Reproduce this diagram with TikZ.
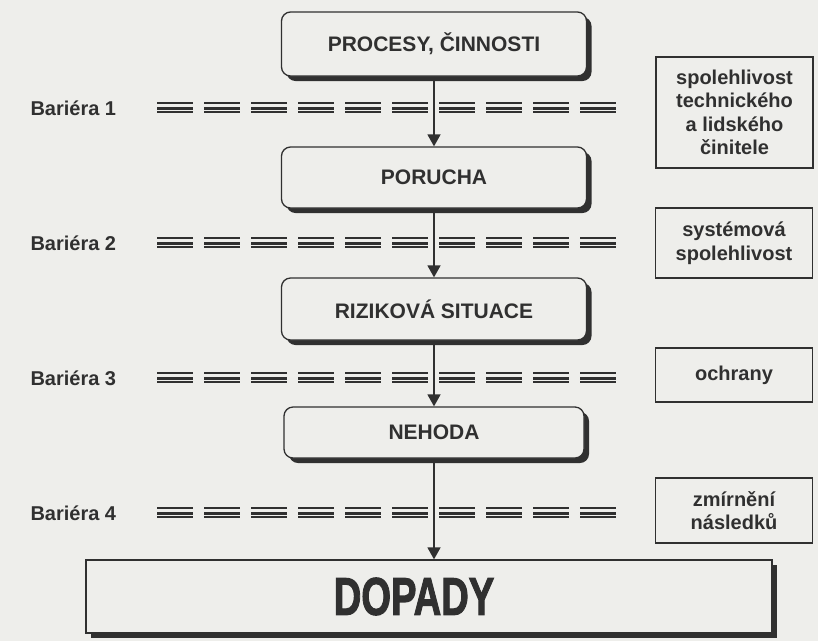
\documentclass[tikz,border=0pt]{standalone}
\usepackage{fontspec}
\setmainfont{Liberation Sans}
\newfontfamily\heavyfont[FakeBold=2.2]{Liberation Sans Bold}
\usetikzlibrary{arrows.meta,shadows}
\definecolor{paper}{RGB}{238,238,235}
\definecolor{ink}{RGB}{48,48,48}

\begin{document}
\begin{tikzpicture}[x=1pt, y=-1pt,
  stage/.style = {draw=ink, line width=1.3pt, rounded corners=9pt, fill=paper, text=ink,
                  minimum width=305pt, font=\fontsize{21}{24}\selectfont\bfseries,
                  drop shadow={shadow xshift=5pt, shadow yshift=-5pt, fill=ink, opacity=1}},
  note/.style  = {draw=ink, line width=1.2pt, text=ink, minimum width=157pt, align=center,
                  font=\fontsize{20}{23.5}\selectfont\bfseries},
  barlabel/.style = {anchor=west, text=ink, font=\fontsize{20}{24}\selectfont\bfseries},
  rail/.style  = {draw=ink, line width=1.4pt},
  railcore/.style = {draw=ink, line width=2.8pt},
  flow/.style  = {draw=ink, line width=1.6pt, -{Triangle[length=12pt, width=13pt]}}]

  \fill[paper] (0,0) rectangle (818,641);
  \useasboundingbox (0,0) rectangle (818,641);

  % main chain
  \node[stage, minimum height=64pt] (procesy)  at (434,44)    {PROCESY, ČINNOSTI};
  \node[stage, minimum height=61pt] (porucha)  at (434,177.5) {PORUCHA};
  \node[stage, minimum height=62pt] (situace)  at (434,309)   {RIZIKOVÁ SITUACE};
  \node[stage, minimum height=51pt, minimum width=300pt] (nehoda) at (434,432.5) {NEHODA};
  \node[stage, rounded corners=0pt, minimum width=686pt, minimum height=73pt,
        font=\fontsize{53}{53}\selectfont\heavyfont] (dopady) at (429,596.5)
        {\raisebox{-2pt}{\scalebox{0.72}[1]{DOPADY}}\hspace*{30pt}};

  % barriers
  \foreach \y [count=\n] in {108,243,378,513} {
    \node[barlabel] (bar\n) at (27,\y) {Bariéra \n};
    \foreach \i [evaluate=\i as \xa using 157+47*\i,
                 evaluate=\i as \xb using 193+47*\i] in {0,...,9} {
      \draw[rail] (\xa,\y-5) -- (\xb,\y-5);
      \draw[railcore] (\xa,\y+0.5) -- (\xb,\y+0.5);
      \draw[rail] (\xa,\y+4) -- (\xb,\y+4);
    }
  }

  \draw[flow] (procesy) -- (porucha);
  \draw[flow] (porucha) -- (situace);
  \draw[flow] (situace) -- (nehoda);
  \draw[flow] (nehoda.south) -- (nehoda.south |- dopady.north);

  % side notes
  \node[note, minimum height=111pt] (tech)   at (734.5,112.5) {spolehlivost\\technického\\a lidského\\činitele};
  \node[note, minimum height=70pt]  (system) at (734,243)     {systémová\\spolehlivost};
  \node[note, minimum height=54pt]  (ochr)   at (734,375)     {ochrany};
  \node[note, minimum height=65pt]  (zmir)   at (734,510.5)   {zmírnění\\následků};
\end{tikzpicture}
\end{document}
